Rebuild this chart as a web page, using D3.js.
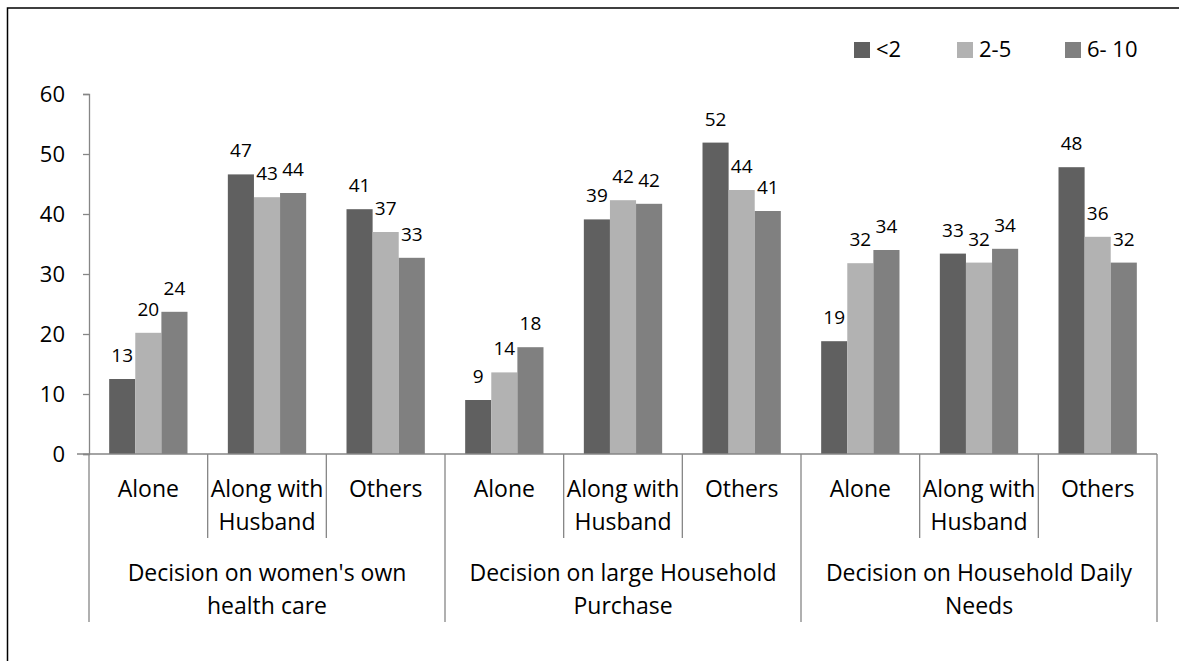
<!DOCTYPE html>
<html lang="en">
<head>
<meta charset="UTF-8">
<title>Decision making chart</title>
<script src="https://cdn.jsdelivr.net/npm/d3@7"></script>
<style>
  body { margin: 0; background: #fff; }
  svg { display: block; font-family: "Open Sans", sans-serif; }
</style>
</head>
<body>
<script>
// data
const groups = [
  ["Decision on women's own", "health care"],
  ["Decision on large Household", "Purchase"],
  ["Decision on Household Daily", "Needs"]
];
const subCategories = [["Alone"], ["Along with", "Husband"], ["Others"]];
const seriesNames = ["<2", "2-5", "6- 10"];
const seriesColors = ["#606060", "#b2b2b2", "#808080"];
// one value per (group, sub-category), in the order above
const under2 = [12.5, 46.6, 40.8, 9.0, 39.1, 51.9, 18.8, 33.4, 47.8];
const from2to5 = [20.2, 42.8, 37.0, 13.6, 42.3, 44.0, 31.8, 31.9, 36.2];
const from6to10 = [23.7, 43.5, 32.7, 17.8, 41.7, 40.5, 34.0, 34.2, 31.9];
const yTicks = [0, 10, 20, 30, 40, 50, 60];

const seriesValues = [under2, from2to5, from6to10];

const w = 1179, h = 661;
const plotLeft = 89, plotRight = 1157, plotTop = 94, base = 454;

// build flat list of categories
const cats = [];
groups.forEach((g, gi) => subCategories.forEach((s, si) => cats.push({ id: gi * 3 + si, group: gi, lines: s })));

const x0 = d3.scaleBand().domain(cats.map(d => d.id)).range([plotLeft, plotRight]);
const gap = x0.bandwidth() * 0.17;
const x1 = d3.scaleBand().domain(d3.range(seriesNames.length)).range([gap, x0.bandwidth() - gap]);
const y = d3.scaleLinear().domain([0, 60]).range([base, plotTop]);

const svg = d3.select("body").append("svg").attr("width", w).attr("height", h);

// outer border
svg.append("rect")
   .attr("x", 7.5).attr("y", 8)
   .attr("width", w + 10).attr("height", h + 10)
   .attr("fill", "none").attr("stroke", "#000").attr("stroke-width", 1.5);

// y axis
const yAxis = svg.append("g")
   .attr("transform", `translate(${plotLeft},0)`)
   .call(d3.axisLeft(y).tickValues(yTicks).tickSize(6).tickPadding(18));
yAxis.select(".domain").attr("stroke", "#868686").attr("stroke-width", 1.3);
yAxis.selectAll(".tick line").attr("stroke", "#868686").attr("stroke-width", 1.3);
yAxis.selectAll(".tick text")
     .attr("font-size", 22).attr("fill", "#000").attr("font-family", "Open Sans");

// bars
const bars = svg.append("g");
seriesValues.forEach((vals, si) => {
  bars.selectAll(null)
      .data(cats)
      .enter()
      .append("rect")
      .attr("x", d => x0(d.id) + x1(si))
      .attr("y", d => y(vals[d.id]))
      .attr("width", x1.bandwidth())
      .attr("height", d => base - y(vals[d.id]))
      .attr("fill", seriesColors[si]);

  bars.selectAll(null)
      .data(cats)
      .enter()
      .append("text")
      .attr("x", d => x0(d.id) + x1(si) + x1.bandwidth() / 2)
      .attr("y", d => y(vals[d.id]) - 17)
      .attr("text-anchor", "middle")
      .attr("font-size", 19)
      .text(d => Math.round(vals[d.id]));
});

// x axis line
const axisC = "#868686";
svg.append("line")
   .attr("x1", plotLeft - 12).attr("x2", plotRight)
   .attr("y1", base).attr("y2", base)
   .attr("stroke", axisC).attr("stroke-width", 1.3);

// dividers between categories
const bounds = cats.map(d => x0(d.id)).concat([plotRight]);
svg.selectAll(".div")
   .data(bounds)
   .enter()
   .append("line")
   .attr("x1", d => d).attr("x2", d => d)
   .attr("y1", base)
   .attr("y2", (d, i) => (i % 3 === 0 ? 622 : 538))
   .attr("stroke", axisC).attr("stroke-width", 1.3);

// category labels
svg.selectAll(".cat")
   .data(cats)
   .enter()
   .append("text")
   .attr("text-anchor", "middle")
   .attr("font-size", 23)
   .attr("x", d => x0(d.id) + x0.bandwidth() / 2)
   .selectAll("tspan")
   .data(d => d.lines)
   .enter()
   .append("tspan")
   .attr("x", function() { return this.parentNode.getAttribute("x"); })
   .attr("y", (d, i) => 497 + i * 33)
   .text(d => d);

// group labels
svg.selectAll(".grp")
   .data(groups)
   .enter()
   .append("text")
   .attr("text-anchor", "middle")
   .attr("font-size", 23)
   .attr("x", (d, i) => (x0(i * 3) + (i * 3 + 3 < cats.length ? x0(i * 3 + 3) : plotRight)) / 2)
   .selectAll("tspan")
   .data(d => d)
   .enter()
   .append("tspan")
   .attr("x", function() { return this.parentNode.getAttribute("x"); })
   .attr("y", (d, i) => 581 + i * 33)
   .text(d => d);

// legend
const legendX = [854, 957, 1065];
const legend = svg.append("g");
seriesNames.forEach((name, i) => {
  legend.append("rect")
        .attr("x", legendX[i]).attr("y", 42)
        .attr("width", 16).attr("height", 16)
        .attr("fill", seriesColors[i]);
  legend.append("text")
        .attr("x", legendX[i] + 22).attr("y", 57)
        .attr("font-size", 22)
        .text(name);
});
</script>
</body>
</html>
